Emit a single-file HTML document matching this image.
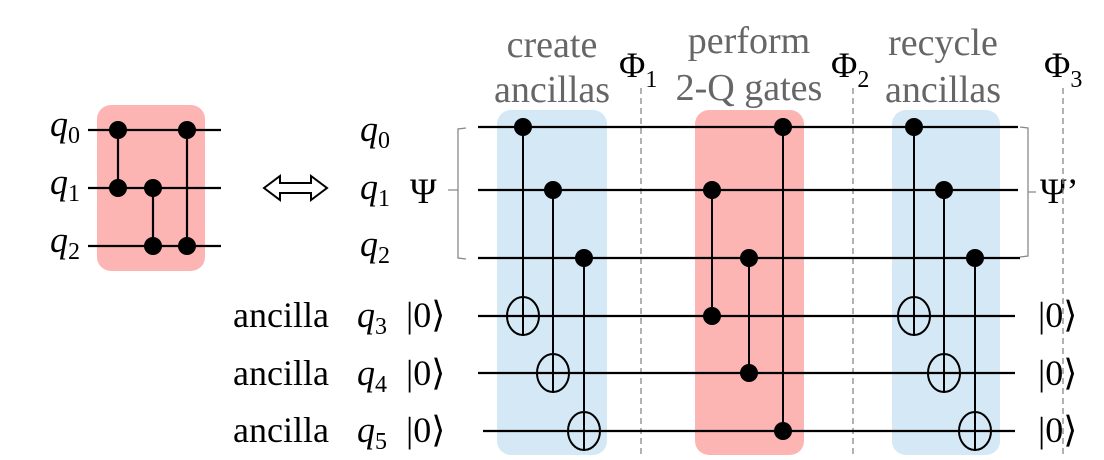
<!DOCTYPE html>
<html><head><meta charset="utf-8"><style>
body{margin:0;background:#fff}
svg{display:block}
svg text{font-family:"Liberation Serif","DejaVu Serif","Noto Serif CJK SC",serif}
</style></head><body>
<svg width="1104" height="460" viewBox="0 0 1104 460">
<g>
<rect x="97" y="105" width="108" height="166" rx="14" fill="#fdb5b3"/>
<g stroke="#000" stroke-width="2.2">
<line x1="88" y1="130" x2="221" y2="130"/><line x1="88" y1="188" x2="221" y2="188"/><line x1="88" y1="246" x2="221" y2="246"/>
<line x1="118" y1="130" x2="118" y2="188"/><line x1="153" y1="188" x2="153" y2="246"/><line x1="187" y1="130" x2="187" y2="246"/>
</g>
<g fill="#000"><circle cx="118" cy="130" r="9"/><circle cx="118" cy="188" r="9"/><circle cx="153" cy="188" r="9"/><circle cx="153" cy="246" r="9"/><circle cx="187" cy="130" r="9"/><circle cx="187" cy="246" r="9"/></g>
<g font-size="36" font-style="italic"><text x="50" y="136">q<tspan font-size="24" font-style="normal" dy="7">0</tspan></text><text x="50" y="194">q<tspan font-size="24" font-style="normal" dy="7">1</tspan></text><text x="50" y="252">q<tspan font-size="24" font-style="normal" dy="7">2</tspan></text></g>
</g>
<path d="M264 188 L280 176 L280 183 L311 183 L311 176 L327 188 L311 200 L311 193 L280 193 L280 200 Z" fill="#fff" stroke="#000" stroke-width="2"/>
<g font-size="36">
<text x="360" y="141" font-style="italic">q<tspan font-size="24" font-style="normal" dy="7">0</tspan></text>
<text x="360" y="199" font-style="italic">q<tspan font-size="24" font-style="normal" dy="7">1</tspan></text>
<text x="360" y="256" font-style="italic">q<tspan font-size="24" font-style="normal" dy="7">2</tspan></text>
<text x="410" y="203">Ψ</text>
<text x="233" y="327">ancilla</text><text x="233" y="385">ancilla</text><text x="233" y="442">ancilla</text>
<text x="357" y="327" font-style="italic">q<tspan font-size="24" font-style="normal" dy="7">3</tspan></text>
<text x="357" y="385" font-style="italic">q<tspan font-size="24" font-style="normal" dy="7">4</tspan></text>
<text x="357" y="442" font-style="italic">q<tspan font-size="24" font-style="normal" dy="7">5</tspan></text>
<text x="406" y="327">|0⟩</text><text x="406" y="385">|0⟩</text><text x="406" y="442">|0⟩</text>
<text x="1040" y="203">Ψ’</text>
<text x="1038" y="327">|0⟩</text><text x="1038" y="385">|0⟩</text><text x="1038" y="442">|0⟩</text>
</g>
<g fill="none" stroke="#888" stroke-width="1.3">
<path d="M466 128 L458 129 L458 258 L466 259 M458 190 L448 190"/>
<path d="M1020 127 L1028 128 L1028 256 L1020 257 M1028 192 L1036 192"/>
</g>
<rect x="497" y="110" width="110" height="345" rx="14" fill="#d4e8f5"/>
<rect x="695" y="110" width="109" height="345" rx="14" fill="#fdb5b3"/>
<rect x="892" y="110" width="108" height="345" rx="14" fill="#d4e8f5"/>
<g stroke="#888" stroke-width="1.3" stroke-dasharray="6,4">
<line x1="641" y1="88" x2="641" y2="455"/><line x1="853" y1="88" x2="853" y2="455"/><line x1="1063" y1="88" x2="1063" y2="455"/>
</g>
<g font-size="38" fill="#666" text-anchor="middle">
<text x="552" y="57">create</text><text x="552" y="102">ancillas</text>
<text x="749" y="53">perform</text><text x="749" y="100">2-Q gates</text>
<text x="943" y="55">recycle</text><text x="943" y="102">ancillas</text>
</g>
<g font-size="36">
<text x="619" y="77">Φ<tspan font-size="24" dy="10">1</tspan></text>
<text x="831" y="77">Φ<tspan font-size="24" dy="10">2</tspan></text>
<text x="1044" y="77">Φ<tspan font-size="24" dy="10">3</tspan></text>
</g>
<g stroke="#000" stroke-width="2.2">
<line x1="478" y1="127" x2="1018" y2="127"/><line x1="478" y1="190" x2="1018" y2="190"/><line x1="478" y1="258" x2="1020" y2="258"/>
<line x1="478" y1="316" x2="1015" y2="316"/><line x1="478" y1="373" x2="1015" y2="373"/><line x1="483" y1="431" x2="1015" y2="431"/>
</g>
<g stroke="#000" stroke-width="2">
<line x1="523" y1="127" x2="523" y2="336"/><line x1="553" y1="190" x2="553" y2="393"/><line x1="584" y1="258" x2="584" y2="451"/>
<line x1="712" y1="190" x2="712" y2="316"/><line x1="749" y1="258" x2="749" y2="373"/><line x1="783" y1="127" x2="783" y2="431"/>
<line x1="914" y1="127" x2="914" y2="336"/><line x1="944" y1="190" x2="944" y2="393"/><line x1="975" y1="258" x2="975" y2="451"/>
<g fill="none"><ellipse cx="523" cy="316" rx="16" ry="19"/><ellipse cx="553" cy="373" rx="16" ry="19"/><ellipse cx="584" cy="431" rx="16" ry="19"/>
<ellipse cx="914" cy="316" rx="16" ry="19"/><ellipse cx="944" cy="373" rx="16" ry="19"/><ellipse cx="975" cy="431" rx="16" ry="19"/></g>
</g>
<g fill="#000">
<circle cx="523" cy="127" r="9"/><circle cx="553" cy="190" r="9"/><circle cx="584" cy="258" r="9"/>
<circle cx="712" cy="190" r="9"/><circle cx="712" cy="316" r="9"/><circle cx="749" cy="258" r="9"/><circle cx="749" cy="373" r="9"/><circle cx="783" cy="127" r="9"/><circle cx="783" cy="431" r="9"/>
<circle cx="914" cy="127" r="9"/><circle cx="944" cy="190" r="9"/><circle cx="975" cy="258" r="9"/>
</g>
</svg>
</body></html>
